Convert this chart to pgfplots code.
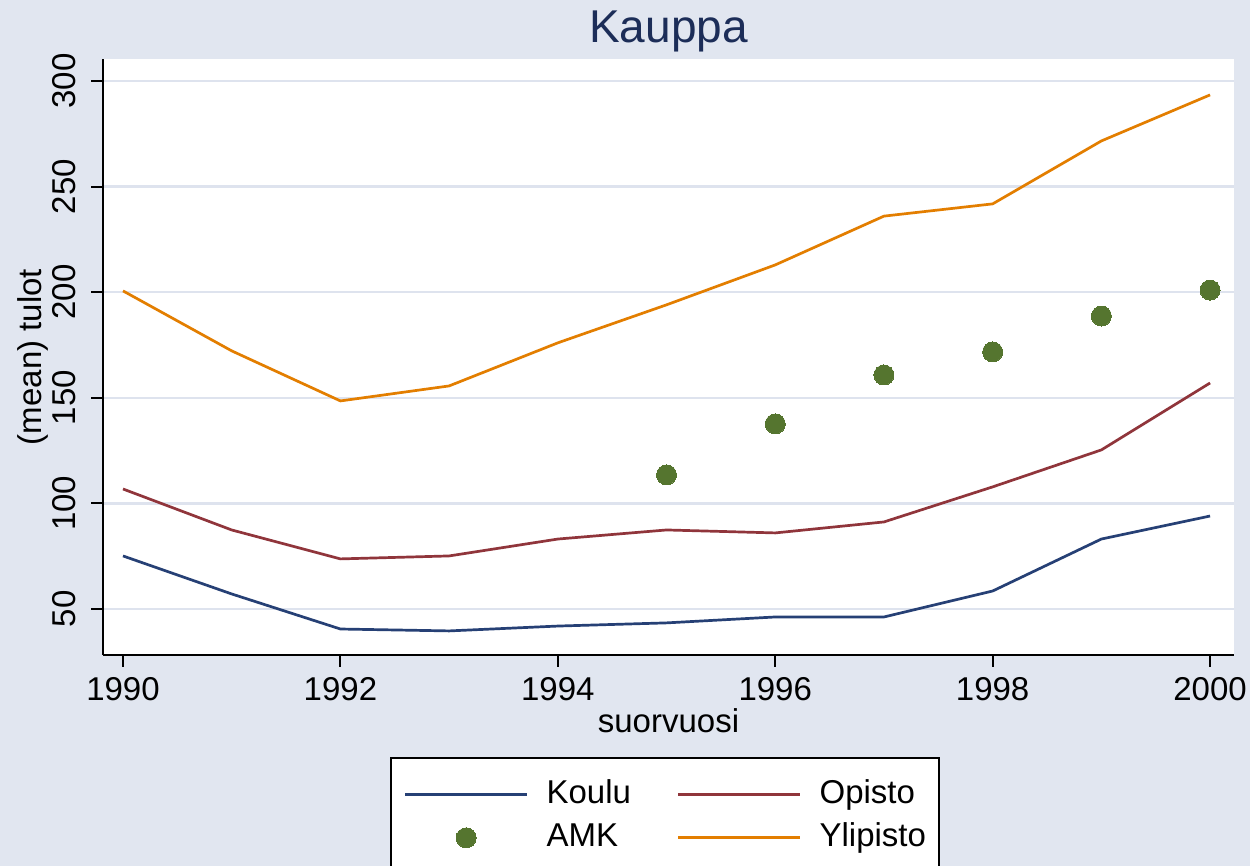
\documentclass[border=0pt]{standalone}
\usepackage{pgfplots}
\pgfplotsset{compat=1.18}
\usepackage{fontspec}
\setmainfont{Liberation Sans}
\definecolor{bgc}{RGB}{225,230,240}
\definecolor{gridc}{RGB}{222,227,238}
\definecolor{koulu}{RGB}{38,64,117}
\definecolor{opisto}{RGB}{144,53,59}
\definecolor{amk}{RGB}{85,117,47}
\definecolor{ylip}{RGB}{227,126,0}
\definecolor{titlec}{RGB}{28,45,88}
\pgfplotsset{
  linelegend/.style={legend image code/.code={\draw[##1] (0pt,0pt) -- (61pt,0pt);}},
  amklegend/.style={legend image code/.code={\draw[##1] plot coordinates {(30.5pt,0pt)};}},
}
\begin{document}
\begin{tikzpicture}
\useasboundingbox (0,0) rectangle (625pt,433pt);
\clip (0,0) rectangle (625pt,433pt);
\fill[bgc] (0,0) rectangle (625pt,433pt);
\begin{axis}[
  scale only axis, width=565.5pt, height=298pt,
  at={(51.5pt,105.5pt)}, anchor=south west,
  xmin=1989.816, xmax=2000.22, ymin=28.2, ymax=310.4,
  axis x line*=bottom, axis y line*=left,
  axis line style={line width=1pt, black, -},
  axis background/.style={fill=white},
  xtick={1990,1992,...,2000}, ytick={50,100,...,300},
  /pgf/number format/1000 sep={},
  /pgf/number format/assume math mode=true,
  ymajorgrids, grid style={gridc, line width=1.2pt},
  tick style={black, line width=1pt}, major tick length=6pt, tick align=outside,
  ticklabel style={font=\fontsize{16.5}{19.8}\selectfont},
  xticklabel style={yshift=-1.5pt},
  yticklabel style={rotate=90, anchor=south, yshift=4pt},
  title={Kauppa},
  title style={at={(axis description cs:0.5,1)}, anchor=base, yshift=2pt, font=\fontsize{23}{27}\selectfont, text=titlec},
  xlabel={suorvuosi},
  xlabel style={at={(axis description cs:0.5,0)}, anchor=base, yshift=-39pt, font=\fontsize{16.5}{19.8}\selectfont},
  ylabel={(mean) tulot},
  ylabel style={at={(axis description cs:0,0.5)}, anchor=center, yshift=35pt, font=\fontsize{16.5}{19.8}\selectfont},
  legend columns=2,
  legend style={at={(axis description cs:0.2538,-0.1711)}, anchor=north west,
    draw=black, line width=0.8pt, fill=white,
    font=\fontsize{16.5}{19.8}\selectfont,
    inner xsep=6.5pt, inner ysep=11pt, row sep=6.5pt,
    nodes={inner sep=0pt, text height=12pt, text depth=3pt, anchor=west},
    /tikz/every odd column/.append style={column sep=9pt},
    /tikz/every even column/.append style={column sep=23pt}},
]
\addplot[koulu, line width=1.35pt, linelegend] coordinates {
(1990,75.1) (1991,57.1) (1992,40.5) (1993,39.6) (1994,41.9) (1995,43.4)
(1996,46.2) (1997,46.2) (1998,58.5) (1999,83.1) (2000,94.0)};
\addlegendentry{Koulu}
\addplot[opisto, line width=1.35pt, linelegend] coordinates {
(1990,106.8) (1991,87.4) (1992,73.7) (1993,75.1) (1994,83.1) (1995,87.4)
(1996,86.0) (1997,91.2) (1998,107.8) (1999,125.3) (2000,157.0)};
\addlegendentry{Opisto}
\addplot[only marks, mark=*, mark size=5pt, mark options={fill=amk, draw=amk, line width=0pt}, amklegend] coordinates {
(1995,113.5) (1996,137.6) (1997,160.8) (1998,171.7) (1999,188.7) (2000,201.0)};
\addlegendentry{AMK}
\addplot[ylip, line width=1.35pt, linelegend] coordinates {
(1990,200.6) (1991,172.2) (1992,148.5) (1993,155.6) (1994,176.0) (1995,194.0)
(1996,212.9) (1997,236.0) (1998,241.8) (1999,271.6) (2000,293.4)};
\addlegendentry{Ylipisto}
\end{axis}
\end{tikzpicture}
\end{document}
